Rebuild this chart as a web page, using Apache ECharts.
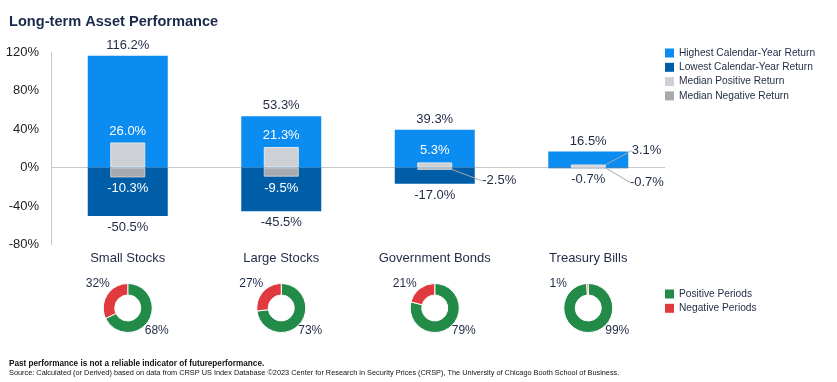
<!DOCTYPE html>
<html><head><meta charset="utf-8">
<script src="https://cdn.jsdelivr.net/npm/echarts@6/dist/echarts.min.js"></script>
<style>html,body{margin:0;padding:0;background:#fff}#c{width:837px;height:382px}</style>
</head><body><div id="c"></div>
<script>
const categories = ['Small Stocks', 'Large Stocks', 'Government Bonds', 'Treasury Bills'];
const highest = [116.2, 53.3, 39.3, 16.5];
const lowest = [-50.5, -45.5, -17.0, -0.7];
const medianPositive = [26.0, 21.3, 5.3, 3.1];
const medianNegative = [-10.3, -9.5, -2.5, -0.7];
const positivePeriods = [68, 73, 79, 99];
const negativePeriods = [32, 27, 21, 1];
const yTicks = [-80, -40, 0, 40, 80, 120];

const FONT = 'Liberation Sans, Arial, sans-serif';
const DARK = '#1f2a44';
const GREEN = '#238b48';
const RED = '#e0393e';

const chart = echarts.init(document.getElementById('c'), null, {renderer: 'canvas'});
const fmt = p => p.value.toFixed(1) + '%';

const gridLeft = 51, gridRight = 665;
const catW = (gridRight - gridLeft) / categories.length;

function overrideItems(values, idxs, extra) {
  return values.map((v, i) => idxs.includes(i) ? Object.assign({value: v}, extra) : v);
}
const leaderLabel = {label: {color: DARK}, labelLine: {show: true, lineStyle: {color: '#a8a8a8', width: 1}}};

const pies = categories.map((c, i) => ({
  type: 'pie',
  name: c,
  center: [gridLeft + catW * (i + 0.5), 308],
  radius: [13, 24.5],
  startAngle: 90,
  clockwise: true,
  silent: true,
  itemStyle: {borderColor: '#fff', borderWidth: 1},
  label: {show: true, position: 'outside', formatter: '{c}%', color: DARK, fontSize: 12, fontFamily: FONT},
  labelLine: {show: false},
  labelLayout: function (p) {
    const cx = gridLeft + catW * (i + 0.5), cy = 308;
    if (p.dataIndex === 0) return {x: cx + 29, y: cy + 23, align: 'center', verticalAlign: 'middle'};
    return {x: cx - 30, y: cy - 24, align: 'center', verticalAlign: 'middle'};
  },
  data: [
    {name: 'Positive Periods', value: positivePeriods[i], itemStyle: {color: GREEN}},
    {name: 'Negative Periods', value: negativePeriods[i], itemStyle: {color: RED}}
  ]
}));

const legendText = {fontSize: 10.2, color: DARK, fontFamily: FONT};

const option = {
  animation: false,
  textStyle: {fontFamily: FONT},
  color: ['#0b8cf1', '#005ea8', '#cdd0d4', '#a7aaae', GREEN, RED],
  title: [
    {text: 'Long-term Asset Performance', left: 9, top: 14, padding: 0, textStyle: {fontSize: 14.6, fontWeight: 'bold', color: '#1b2a4a', fontFamily: FONT}},
    {text: 'Past performance is not a reliable indicator of futureperformance.', left: 9, top: 359.5, padding: 0, textStyle: {fontSize: 8.2, fontWeight: 'bold', color: '#111', fontFamily: FONT}},
    {text: 'Source: Calculated (or Derived) based on data from CRSP US Index Database \u00a92023 Center for Research in Security Prices (CRSP), The University of Chicago Booth School of Business.', left: 9, top: 369.5, padding: 0, textStyle: {fontSize: 7.35, fontWeight: 'normal', color: '#111', fontFamily: FONT}}
  ],
  legend: [
    {orient: 'vertical', left: 660, top: 43, itemWidth: 9, itemHeight: 9, itemGap: 4.3,
     data: ['Highest Calendar-Year Return', 'Lowest Calendar-Year Return', 'Median Positive Return', 'Median Negative Return'],
     icon: 'rect', itemStyle: {borderWidth: 0}, textStyle: legendText, selectedMode: false},
    {orient: 'vertical', left: 660, top: 284, itemWidth: 9, itemHeight: 9, itemGap: 4.3,
     data: ['Positive Periods', 'Negative Periods'],
     icon: 'rect', itemStyle: {borderWidth: 0}, textStyle: legendText, selectedMode: false}
  ],
  grid: {left: gridLeft, right: 837 - gridRight, top: 52, bottom: 137.5, containLabel: false},
  xAxis: [
    {type: 'category', data: categories, position: 'bottom',
     axisLine: {show: false, onZero: false}, axisTick: {show: false},
     axisLabel: {fontSize: 13, color: DARK, margin: 7, fontFamily: FONT}},
    {type: 'category', data: categories, show: false, axisLine: {onZero: false}}
  ],
  yAxis: {
    type: 'value', min: yTicks[0], max: yTicks[yTicks.length - 1], interval: 40,
    axisLine: {show: true, lineStyle: {color: '#c8c8c8'}}, axisTick: {show: false},
    splitLine: {show: false},
    axisLabel: {formatter: '{value}%', fontSize: 13, color: '#222', margin: 12, fontFamily: FONT}
  },
  series: [
    {name: 'Highest Calendar-Year Return', type: 'bar', xAxisIndex: 0, stack: 'outer', barWidth: 80,
     itemStyle: {color: '#0b8cf1'}, z: 2,
     label: {show: true, position: 'top', formatter: fmt, color: DARK, fontSize: 13, distance: 4},
     markLine: {silent: true, symbol: 'none', z: 1, label: {show: false},
       lineStyle: {color: '#c8c8c8', width: 1, type: 'solid'}, data: [{yAxis: 0}]},
     data: highest},
    {name: 'Lowest Calendar-Year Return', type: 'bar', xAxisIndex: 0, stack: 'outer', barWidth: 80,
     itemStyle: {color: '#005ea8'}, z: 2,
     label: {show: true, position: 'bottom', formatter: fmt, color: DARK, fontSize: 13, distance: 5},
     data: lowest},
    {name: 'Median Positive Return', type: 'bar', xAxisIndex: 1, stack: 'inner', barWidth: 35,
     itemStyle: {color: '#cdd0d4', borderColor: '#e6e7e9', borderWidth: 1}, z: 3,
     label: {show: true, position: 'top', formatter: fmt, color: '#fff', fontSize: 13, distance: 5},
     labelLayout: function (p) {
       if (p.dataIndex === 3) return {x: p.rect.x + p.rect.width + 26, y: p.rect.y - 14, align: 'left', verticalAlign: 'middle'};
     },
     data: overrideItems(medianPositive, [3], leaderLabel)},
    {name: 'Median Negative Return', type: 'bar', xAxisIndex: 1, stack: 'inner', barWidth: 35,
     itemStyle: {color: '#a7aaae', borderColor: '#c9cbce', borderWidth: 1}, z: 3,
     label: {show: true, position: 'bottom', formatter: fmt, color: '#fff', fontSize: 13, distance: 5},
     labelLayout: function (p) {
       const b = p.rect.y + Math.abs(p.rect.height);
       if (p.dataIndex === 2) return {x: p.rect.x + p.rect.width + 30, y: b + 11, align: 'left', verticalAlign: 'middle'};
       if (p.dataIndex === 3) return {x: p.rect.x + p.rect.width + 24, y: b + 14, align: 'left', verticalAlign: 'middle'};
     },
     data: overrideItems(medianNegative, [2, 3], leaderLabel)}
  ].concat(pies)
};
chart.setOption(option);
</script>
</body></html>
